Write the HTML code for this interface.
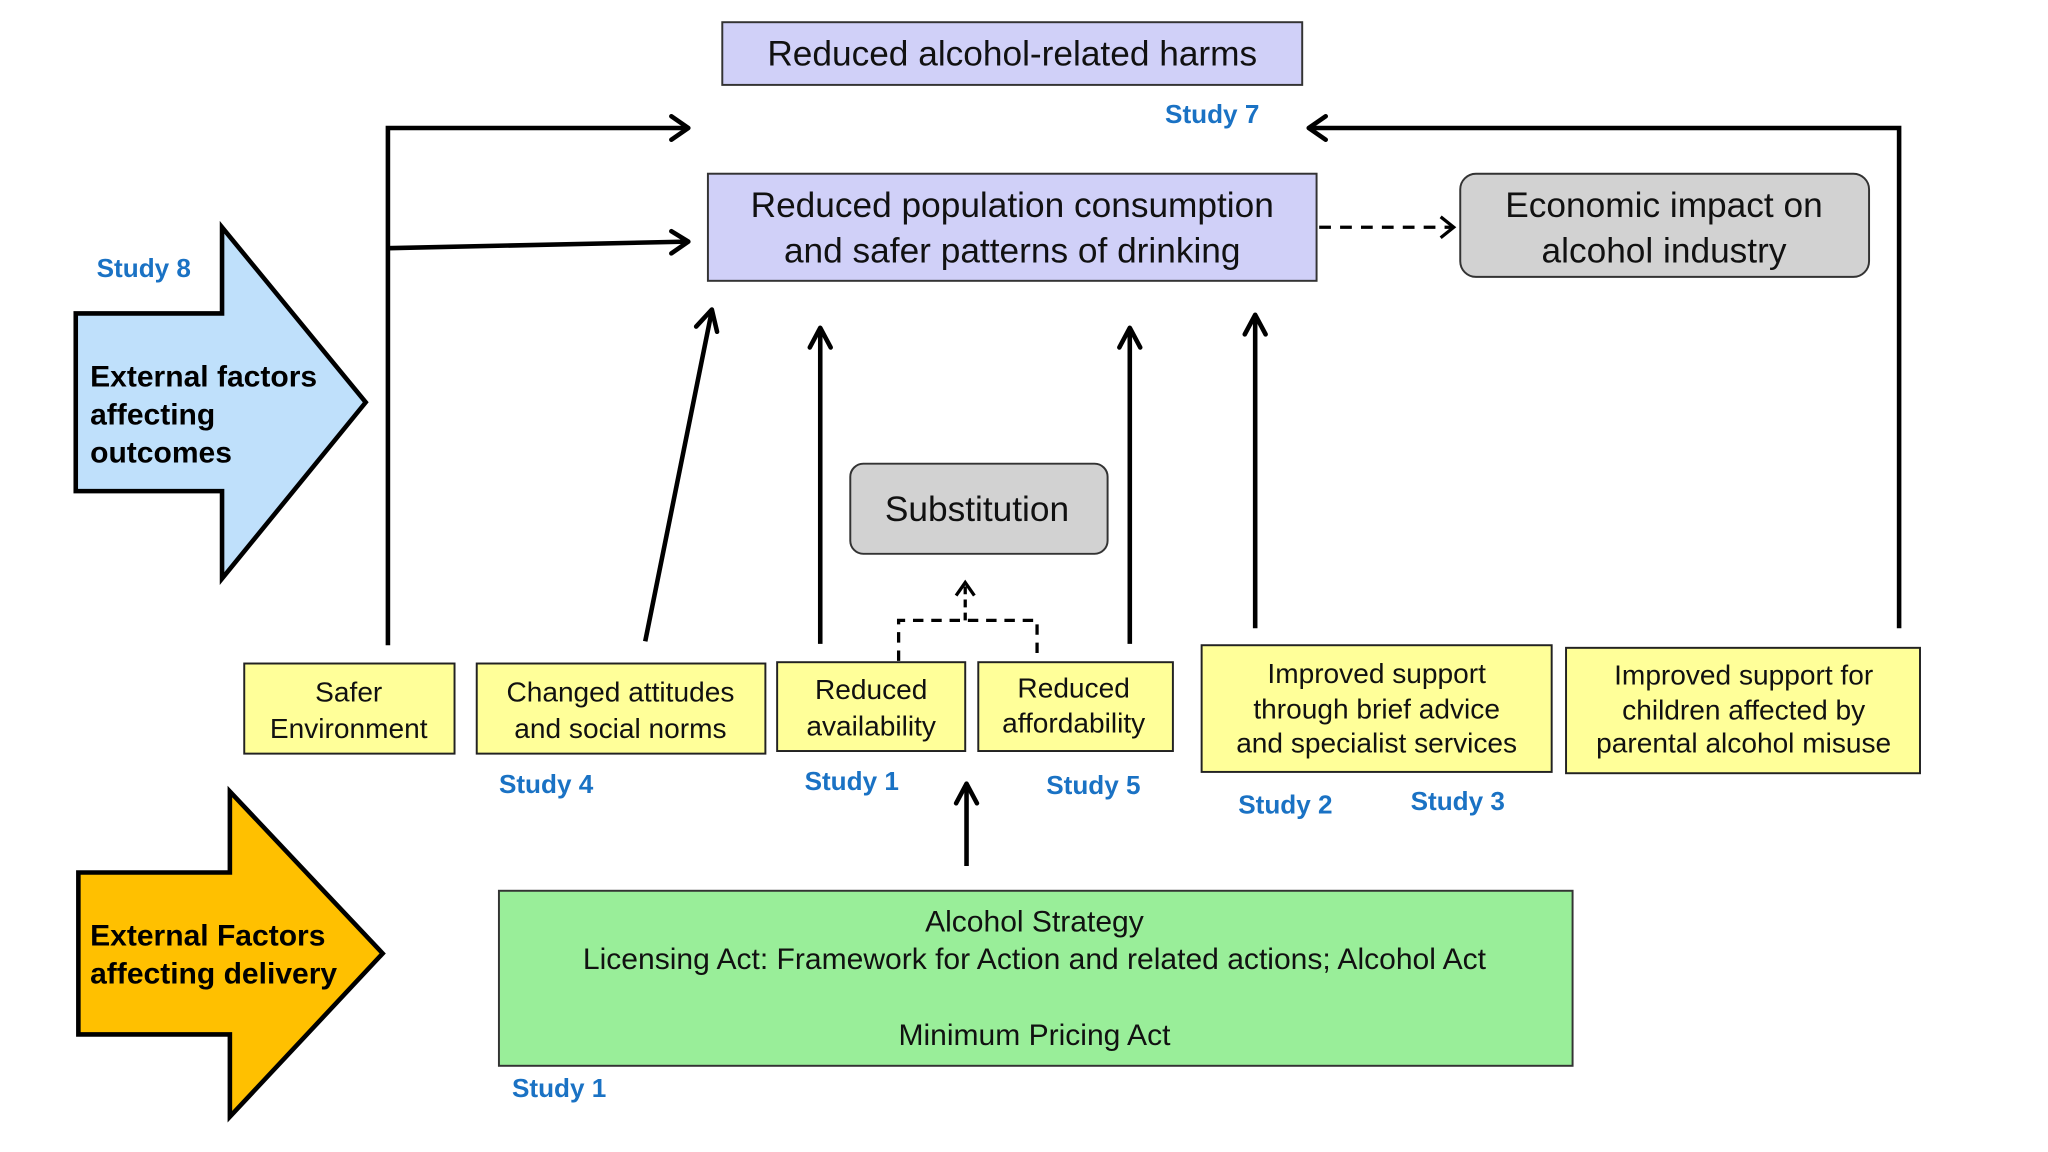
<!DOCTYPE html>
<html><head><meta charset="utf-8"><style>
html,body{margin:0;padding:0;background:#fff;}
svg{display:block;}
text{font-family:"Liberation Sans",Arial,sans-serif;}
.s{fill:#1a72c4;font-weight:bold;font-size:20px;}
.y{fill:#ffff99;stroke:#222;stroke-width:1.5;}
.yt{font-size:21.5px;fill:#111;text-anchor:middle;}
.ln{stroke:#000;stroke-width:3.5;fill:none;}
.ah{stroke:#000;stroke-width:3.5;fill:none;stroke-linecap:round;stroke-linejoin:round;}
</style></head><body>
<svg width="2048" height="1152" viewBox="0 0 1568 882" xmlns="http://www.w3.org/2000/svg">
<rect x="0" y="0" width="1568" height="882" fill="#fff"/>
<!-- top box -->
<rect x="553" y="17" width="444" height="48" fill="#d0d0f8" stroke="#333" stroke-width="1.5"/>
<text x="775" y="50" font-size="27" text-anchor="middle" fill="#111">Reduced alcohol-related harms</text>
<text x="892" y="94" class="s">Study 7</text>
<!-- left bracket -->
<polyline class="ln" points="297,494 297,98 526,98"/>
<polyline class="ah" points="514,89 527,98 514,107"/>
<line class="ln" x1="297" y1="190" x2="526" y2="185"/>
<polyline class="ah" points="514,177 527,185 514,194"/>
<!-- right bracket -->
<polyline class="ln" points="1454,481 1454,98 1003,98"/>
<polyline class="ah" points="1015,89 1002,98 1015,107"/>
<!-- middle box -->
<rect x="542" y="133" width="466" height="82" fill="#d0d0f8" stroke="#333" stroke-width="1.5"/>
<text x="775" y="166" font-size="27" text-anchor="middle" fill="#111">Reduced population consumption</text>
<text x="775" y="201" font-size="27" text-anchor="middle" fill="#111">and safer patterns of drinking</text>
<line x1="1010" y1="174" x2="1112" y2="174" stroke="#000" stroke-width="2.5" stroke-dasharray="9,7"/>
<polyline points="1103,166 1113,174 1103,182" fill="none" stroke="#000" stroke-width="2.5"/>
<rect x="1118" y="133" width="313" height="79" rx="12" fill="#d2d2d2" stroke="#333" stroke-width="1.5"/>
<text x="1274" y="166" font-size="27" text-anchor="middle" fill="#111">Economic impact on</text>
<text x="1274" y="201" font-size="27" text-anchor="middle" fill="#111">alcohol industry</text>
<!-- blue arrow -->
<text x="74" y="212" class="s">Study 8</text>
<polygon points="58,240 170,240 170,174 280,308 170,443 170,376 58,376" fill="#bfe0fb" stroke="#000" stroke-width="3.5"/>
<text x="69" y="296" font-size="23" font-weight="bold" fill="#000">External factors</text>
<text x="69" y="325" font-size="23" font-weight="bold" fill="#000">affecting</text>
<text x="69" y="354" font-size="23" font-weight="bold" fill="#000">outcomes</text>
<!-- up arrows -->
<line class="ln" x1="494" y1="491" x2="545" y2="238"/>
<polyline class="ah" points="533,250 545,237 549,254"/>
<line class="ln" x1="628" y1="493" x2="628" y2="252"/>
<polyline class="ah" points="620,266 628,251 636,266"/>
<line class="ln" x1="865" y1="493" x2="865" y2="252"/>
<polyline class="ah" points="857,266 865,251 873,266"/>
<line class="ln" x1="961" y1="481" x2="961" y2="242"/>
<polyline class="ah" points="953,256 961,241 969,256"/>
<!-- substitution -->
<rect x="651" y="355" width="197" height="69" rx="10" fill="#d2d2d2" stroke="#333" stroke-width="1.5"/>
<text x="748" y="399" font-size="27" text-anchor="middle" fill="#111">Substitution</text>
<polyline points="688,506 688,475 794,475 794,506" fill="none" stroke="#000" stroke-width="2.5" stroke-dasharray="8,6"/>
<line x1="739" y1="475" x2="739" y2="447" stroke="#000" stroke-width="2.5" stroke-dasharray="6,4"/>
<polyline points="732,456 739,446 746,456" fill="none" stroke="#000" stroke-width="2.5"/>
<!-- yellow boxes -->
<rect class="y" x="187" y="508" width="161" height="69"/>
<text class="yt" x="267" y="537">Safer</text><text class="yt" x="267" y="565">Environment</text>
<rect class="y" x="365" y="508" width="221" height="69"/>
<text class="yt" x="475" y="537">Changed attitudes</text><text class="yt" x="475" y="565">and social norms</text>
<rect class="y" x="595" y="507" width="144" height="68"/>
<text class="yt" x="667" y="535">Reduced</text><text class="yt" x="667" y="563">availability</text>
<rect class="y" x="749" y="507" width="149" height="68"/>
<text class="yt" x="822" y="534">Reduced</text><text class="yt" x="822" y="561">affordability</text>
<rect class="y" x="920" y="494" width="268" height="97"/>
<text class="yt" x="1054" y="523">Improved support</text><text class="yt" x="1054" y="550">through brief advice</text><text class="yt" x="1054" y="576">and specialist services</text>
<rect class="y" x="1199" y="496" width="271" height="96"/>
<text class="yt" x="1335" y="524">Improved support for</text><text class="yt" x="1335" y="551">children affected by</text><text class="yt" x="1335" y="576">parental alcohol misuse</text>
<text x="382" y="607" class="s">Study 4</text>
<text x="616" y="605" class="s">Study 1</text>
<text x="801" y="608" class="s">Study 5</text>
<text x="948" y="623" class="s">Study 2</text>
<text x="1080" y="620" class="s">Study 3</text>
<line class="ln" x1="740" y1="663" x2="740" y2="602"/>
<polyline class="ah" points="732,615 740,600 748,615"/>
<!-- orange arrow -->
<polygon points="60,668 176,668 176,606 293,730 176,855 176,792 60,792" fill="#ffc000" stroke="#000" stroke-width="3.5"/>
<text x="69" y="724" font-size="23" font-weight="bold" fill="#000">External Factors</text>
<text x="69" y="753" font-size="23" font-weight="bold" fill="#000">affecting delivery</text>
<!-- green box -->
<rect x="382" y="682" width="822" height="134" fill="#99ee99" stroke="#333" stroke-width="1.5"/>
<text x="792" y="713" font-size="23" text-anchor="middle" fill="#111">Alcohol Strategy</text>
<text x="792" y="742" font-size="23" text-anchor="middle" fill="#111">Licensing Act: Framework for Action and related actions; Alcohol Act</text>
<text x="792" y="800" font-size="23" text-anchor="middle" fill="#111">Minimum Pricing Act</text>
<text x="392" y="840" class="s">Study 1</text>
</svg>
</body></html>
